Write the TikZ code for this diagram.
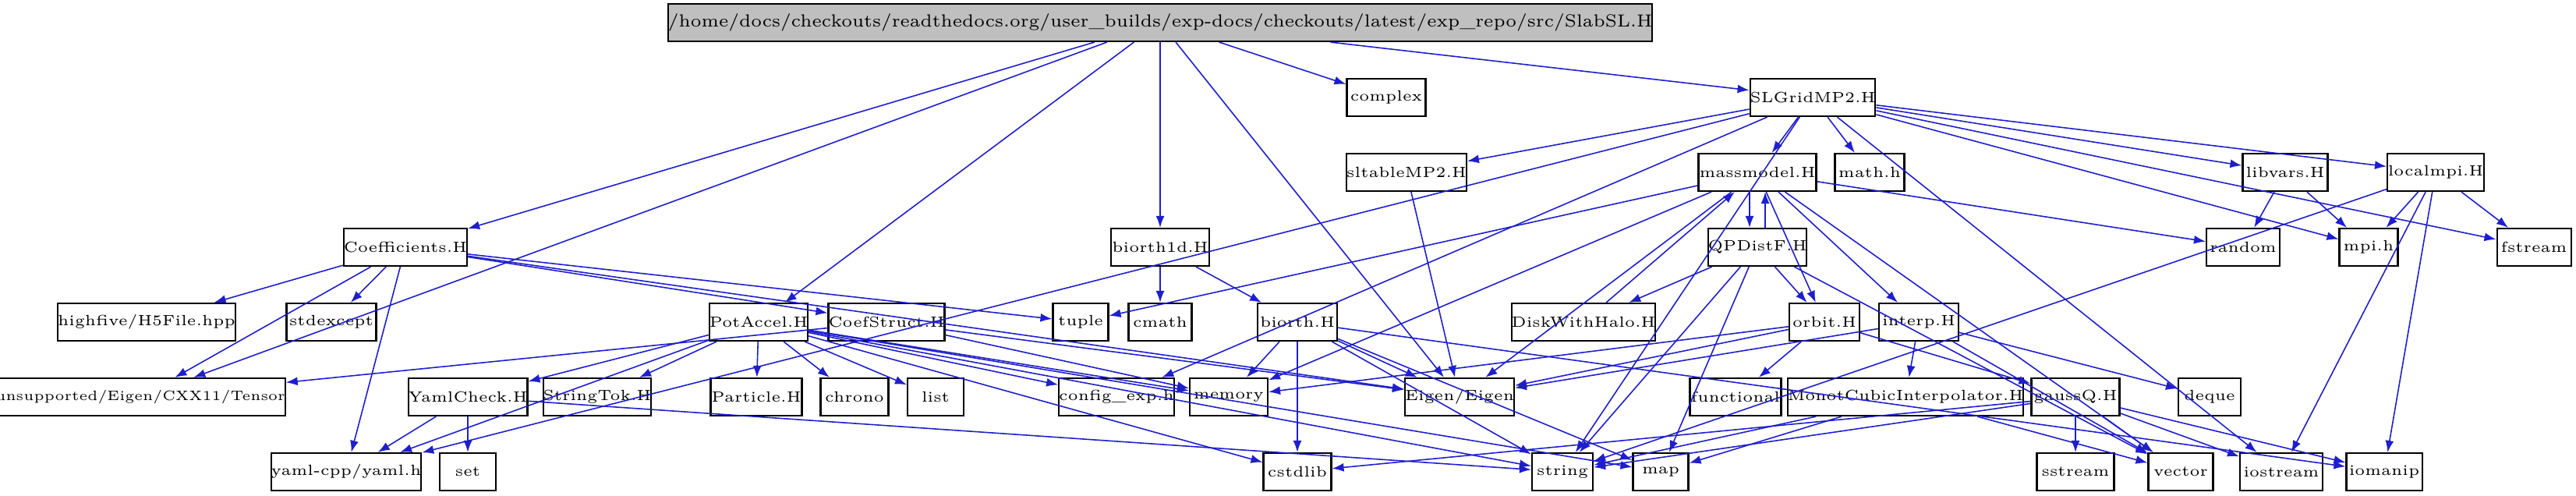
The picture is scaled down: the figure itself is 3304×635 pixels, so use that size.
\documentclass[tikz,border=0pt]{standalone}
\usepackage{tikz}
\usetikzlibrary{arrows.meta}
\definecolor{edgeblue}{RGB}{30,30,205}
\definecolor{rootgray}{RGB}{191,191,191}
\tikzset{
  box/.style={draw, line width=0.6pt, rectangle, inner sep=0pt, minimum height=0.48cm,
    font=\fontsize{5.4}{6}\selectfont},
  w/.style={minimum width=#1*0.01cm},
  dep/.style={edgeblue, line width=0.45pt, -{Latex[length=1.5mm,width=1.1mm]}}
}
\begin{document}
\begin{tikzpicture}[x=0.01cm,y=-0.01cm]
\useasboundingbox (0,0) rectangle (3304,635);

% Top rows
\node[box,w=976,fill=rootgray] (root) at (1488,29) {\fontsize{6.4}{7}\selectfont/home/docs/checkouts/readthedocs.org/user\_builds/exp-docs/checkouts/latest/exp\_repo/src/SlabSL.H};
\node[box,w=101] (complex) at (1778,125) {complex};
\node[box,w=153] (slgrid) at (2325,125) {SLGridMP2.H};

\node[box,w=152] (sltable) at (1804,221) {sltableMP2.H};
\node[box,w=151] (massmodel) at (2254,221) {massmodel.H};
\node[box,w=89] (mathh) at (2398,221) {math.h};
\node[box,w=109] (libvars) at (2931,221) {libvars.H};
\node[box,w=124] (localmpi) at (3124,221) {localmpi.H};

\node[box,w=156] (coefs) at (520,317) {Coefficients.H};
\node[box,w=126] (biorthd) at (1488,317) {biorth1d.H};
\node[box,w=121] (qpdistf) at (2254,317) {QPDistF.H};
\node[box,w=94] (random) at (2877,317) {random};
\node[box,w=75] (mpih) at (3038,317) {mpi.h};
\node[box,w=95] (fstream) at (3250,317) {fstream};

% Middle row
\node[box,w=210] (highfive) at (188,413) {highfive/H5File.hpp};
\node[box,w=115] (stdexcept) at (425,413) {stdexcept};
\node[box,w=124] (potaccel) at (973,413) {PotAccel.H};
\node[box,w=146] (coefstruct) at (1137,413) {CoefStruct.H};
\node[box,w=71] (tuple) at (1386,413) {tuple};
\node[box,w=81] (cmath) at (1488,413) {cmath};
\node[box,w=102] (biorth) at (1664,413) {biorth.H};
\node[box,w=174] (diskhalo) at (2031,413) {DiskWithHalo.H};
\node[box,w=90] (orbit) at (2340,413) {orbit.H};
\node[box,w=102] (interp) at (2461,413) {interp.H};

\node[box,w=343,font=\fontsize{5}{6}\selectfont] (tensor) at (180,509) {unsupported/Eigen/CXX11/Tensor};
\node[box,w=147] (yamlcheck) at (600,509) {YamlCheck.H};
\node[box,w=137] (stringtok) at (766,509) {StringTok.H};
\node[box,w=117] (particle) at (970,509) {Particle.H};
\node[box,w=87] (chrono) at (1096,509) {chrono};
\node[box,w=72] (list) at (1200,509) {list};
\node[box,w=140] (config) at (1432,509) {config\_exp.h};
\node[box,w=100] (memory) at (1576,509) {memory};
\node[box,w=138] (eigen) at (1872,509) {Eigen/Eigen};
\node[box,w=117] (functional) at (2226,509) {functional};
\node[box,w=271] (monot) at (2444,509) {MonotCubicInterpolator.H};
\node[box,w=113] (gaussq) at (2662,509) {gaussQ.H};
\node[box,w=80] (deque) at (2834,509) {deque};

% Bottom row
\node[box,w=178] (yaml) at (444,605) {yaml-cpp/yaml.h};
\node[box,w=72] (set) at (600,605) {set};
\node[box,w=87] (cstdlib) at (1664,605) {cstdlib};
\node[box,w=78] (string) at (2004,605) {string};
\node[box,w=71] (map) at (2130,605) {map};
\node[box,w=99] (sstream) at (2662,605) {sstream};
\node[box,w=83] (vector) at (2797,605) {vector};
\node[box,w=106] (iostream) at (2926,605) {iostream};
\node[box,w=97] (iomanip) at (3058,605) {iomanip};

% Includes
\foreach \a/\b in {root/tensor, root/coefs, root/potaccel, root/biorthd, root/eigen,
  root/complex, root/slgrid,
  slgrid/yaml, slgrid/config, slgrid/sltable, slgrid/massmodel, slgrid/mathh,
  slgrid/string, slgrid/iostream, slgrid/libvars, slgrid/mpih, slgrid/localmpi,
  slgrid/fstream,
  coefs/highfive, coefs/tensor, coefs/stdexcept, coefs/yaml, coefs/coefstruct,
  coefs/tuple, coefs/eigen,
  coefstruct/tensor, coefstruct/memory, coefstruct/eigen,
  potaccel/yaml, potaccel/yamlcheck, potaccel/stringtok, potaccel/particle,
  potaccel/chrono, potaccel/list, potaccel/config, potaccel/memory,
  potaccel/cstdlib, potaccel/string, potaccel/map,
  yamlcheck/yaml, yamlcheck/set, yamlcheck/string,
  biorthd/cmath, biorthd/biorth,
  biorth/memory, biorth/cstdlib, biorth/eigen, biorth/string, biorth/map,
  biorth/iomanip,
  sltable/eigen,
  massmodel/tuple, massmodel/memory, massmodel/eigen, massmodel/orbit,
  massmodel/interp, massmodel/random, massmodel/vector,
  qpdistf/diskhalo, qpdistf/orbit, qpdistf/string, qpdistf/map, qpdistf/vector,
  diskhalo/massmodel,
  libvars/random, libvars/mpih,
  localmpi/mpih, localmpi/fstream, localmpi/iostream, localmpi/iomanip,
  localmpi/string,
  orbit/functional, orbit/gaussq, orbit/memory, orbit/eigen,
  interp/monot, interp/deque, interp/vector, interp/eigen,
  monot/string, monot/map, monot/vector,
  gaussq/string, gaussq/cstdlib, gaussq/sstream, gaussq/vector,
  gaussq/iostream, gaussq/iomanip}
  \draw[dep] (\a) -- (\b);

% massmodel <-> QPDistF
\draw[dep] ([xshift=-0.1cm]massmodel.south) -- ([xshift=-0.1cm]qpdistf.north);
\draw[dep] ([xshift=0.1cm]qpdistf.north) -- ([xshift=0.1cm]massmodel.south);

\end{tikzpicture}
\end{document}
